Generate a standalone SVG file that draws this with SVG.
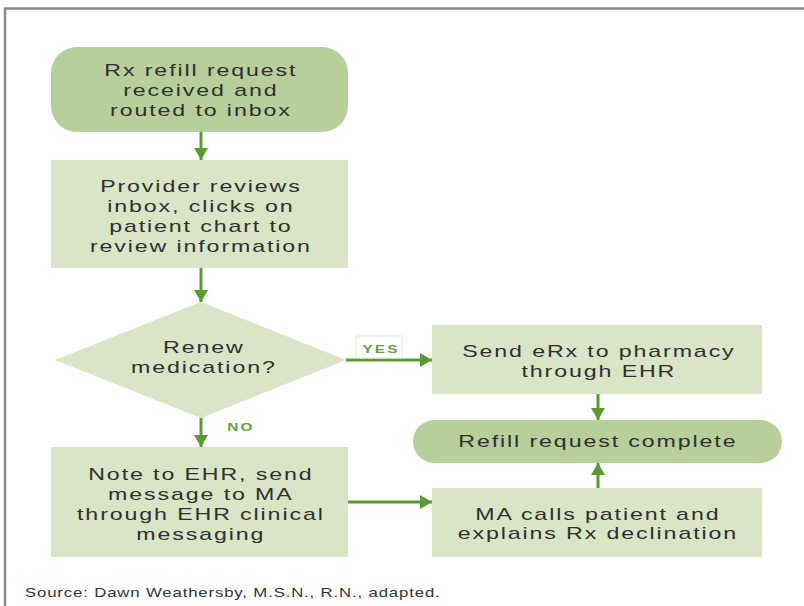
<svg xmlns="http://www.w3.org/2000/svg" width="804" height="606" viewBox="0 0 804 606">
<style>
.dark{fill:#b6cf9b}
.light{fill:#dae5c7}
.t{font-family:"Liberation Sans",Arial,sans-serif;font-size:16px;fill:#2f2f2f;letter-spacing:1.3px;text-anchor:middle}
.lbl{font-family:"Liberation Sans",Arial,sans-serif;font-size:11px;font-weight:bold;fill:#66a03f;letter-spacing:1.5px;text-anchor:middle}
.src{font-family:"Liberation Sans",Arial,sans-serif;font-size:12px;fill:#333;letter-spacing:0.6px}
.c{stroke:#5b9a33;stroke-width:3;fill:none}
</style>
<defs>
<marker id="ah" markerUnits="userSpaceOnUse" markerWidth="14" markerHeight="14" refX="12" refY="7" orient="auto">
<path d="M0,0 L12,7 L0,14 z" fill="#5b9a33"/>
</marker>
</defs>
<rect width="804" height="606" fill="#fff"/>
<path d="M5,606 V8.5 H804" fill="none" stroke="#8a8a8a" stroke-width="2.5"/>

<g id="start">
<rect class="dark" x="51" y="47" width="297" height="85" rx="26"/>
<g transform="translate(200,0) scale(1.45,1)">
<text class="t" x="0.6" y="76">Rx refill request</text>
<text class="t" x="0.6" y="96">received and</text>
<text class="t" x="0.6" y="116">routed to inbox</text>
</g>
</g>

<g id="review">
<rect class="light" x="51" y="160" width="297" height="108"/>
<g transform="translate(200,0) scale(1.45,1)">
<text class="t" x="0.6" y="192">Provider reviews</text>
<text class="t" x="0.6" y="212">inbox, clicks on</text>
<text class="t" x="0.6" y="232">patient chart to</text>
<text class="t" x="0.6" y="252">review information</text>
</g>
</g>

<g id="decision">
<polygon class="light" points="201,302 346,360 201,418 55,360"/>
<g transform="translate(203,0) scale(1.45,1)">
<text class="t" x="0.6" y="353">Renew</text>
<text class="t" x="0.6" y="373">medication?</text>
</g>
</g>

<g id="send">
<rect class="light" x="432" y="325" width="330" height="69"/>
<g transform="translate(598,0) scale(1.45,1)">
<text class="t" x="0.6" y="357">Send eRx to pharmacy</text>
<text class="t" x="0.6" y="377">through EHR</text>
</g>
</g>

<g id="complete">
<rect class="dark" x="413" y="420" width="369" height="43" rx="21.5"/>
<g transform="translate(597,0) scale(1.45,1)">
<text class="t" x="0.6" y="447">Refill request complete</text>
</g>
</g>

<g id="note">
<rect class="light" x="51" y="447" width="297" height="110"/>
<g transform="translate(200,0) scale(1.45,1)">
<text class="t" x="0.6" y="480">Note to EHR, send</text>
<text class="t" x="0.6" y="500">message to MA</text>
<text class="t" x="0.6" y="520">through EHR clinical</text>
<text class="t" x="0.6" y="540">messaging</text>
</g>
</g>

<g id="macalls">
<rect class="light" x="432" y="488" width="330" height="69"/>
<g transform="translate(597,0) scale(1.45,1)">
<text class="t" x="0.6" y="520">MA calls patient and</text>
<text class="t" x="0.6" y="539">explains Rx declination</text>
</g>
</g>

<g id="connectors">
<line class="c" x1="201" y1="132" x2="201" y2="160" marker-end="url(#ah)"/>
<line class="c" x1="201" y1="268" x2="201" y2="302" marker-end="url(#ah)"/>
<line class="c" x1="346" y1="360" x2="432" y2="360" marker-end="url(#ah)"/>
<line class="c" x1="201" y1="418" x2="201" y2="447" marker-end="url(#ah)"/>
<line class="c" x1="598" y1="394" x2="598" y2="420" marker-end="url(#ah)"/>
<line class="c" x1="348" y1="502" x2="432" y2="502" marker-end="url(#ah)"/>
<line class="c" x1="598" y1="488" x2="598" y2="463" marker-end="url(#ah)"/>
<rect x="356" y="336" width="46" height="22" fill="#fff" stroke="#e4e4e4" stroke-width="1"/>
<g transform="translate(380,0) scale(1.4,1)">
<text class="lbl" x="0.7" y="353">YES</text>
</g>
<g transform="translate(240,0) scale(1.4,1)">
<text class="lbl" x="0.7" y="431">NO</text>
</g>
</g>

<g transform="translate(25,0) scale(1.4,1)">
<text class="src" x="0" y="597">Source: Dawn Weathersby, M.S.N., R.N., adapted.</text>
</g>
</svg>
